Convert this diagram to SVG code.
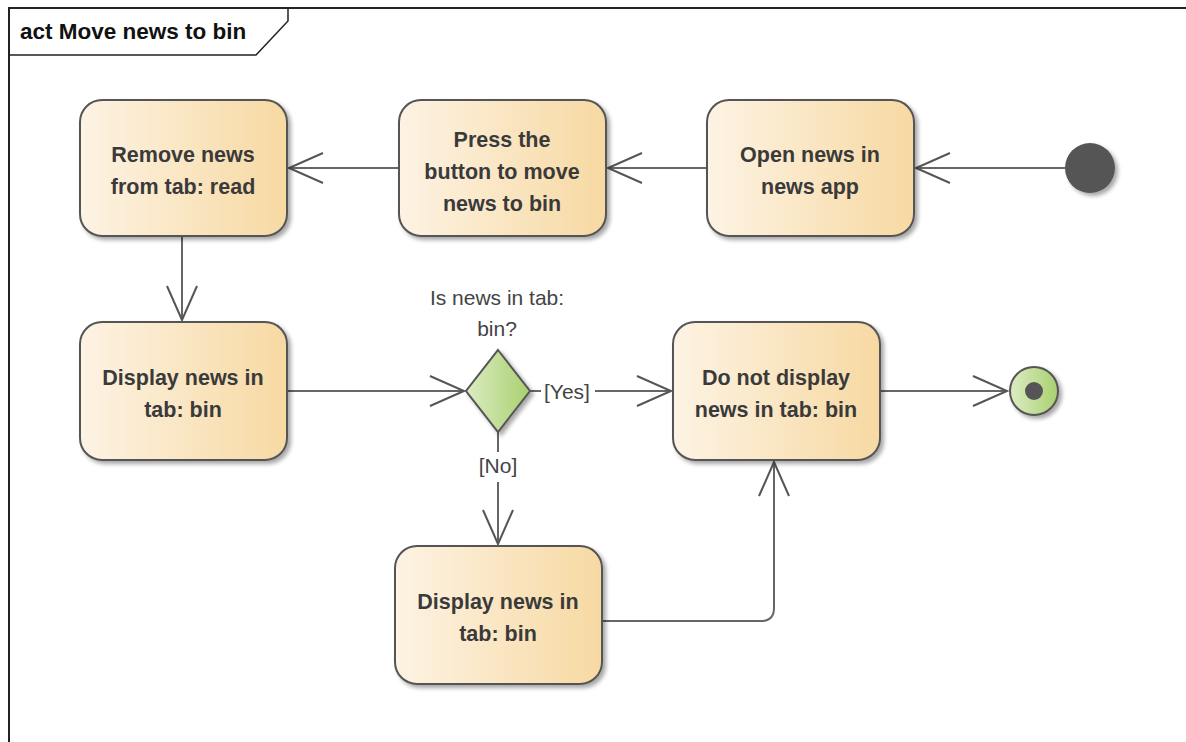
<svg xmlns="http://www.w3.org/2000/svg" width="1186" height="742" viewBox="0 0 1186 742">
<defs>
<linearGradient id="act" x1="0" y1="0" x2="1" y2="0">
<stop offset="0" stop-color="#fdf3e4"/>
<stop offset="1" stop-color="#f7d9a2"/>
</linearGradient>
<linearGradient id="grn" x1="0" y1="0" x2="1" y2="0">
<stop offset="0" stop-color="#dcecc4"/>
<stop offset="1" stop-color="#a9d06e"/>
</linearGradient>
<filter id="sh" x="-20%" y="-20%" width="140%" height="140%">
<feGaussianBlur in="SourceAlpha" stdDeviation="2"/>
<feOffset dx="3" dy="3"/>
<feComponentTransfer><feFuncA type="linear" slope="0.35"/></feComponentTransfer>
<feMerge><feMergeNode/><feMergeNode in="SourceGraphic"/></feMerge>
</filter>
<marker id="arr" viewBox="-36 -17 38 34" refX="0" refY="0" markerWidth="38" markerHeight="34" markerUnits="userSpaceOnUse" orient="auto" overflow="visible">
<path d="M-34,-15 L0,0 L-34,15" fill="none" stroke="#555" stroke-width="2"/>
</marker>
</defs>
<style>
.node{fill:url(#act);stroke:#555;stroke-width:2;filter:url(#sh)}
.t{font-family:"Liberation Sans",Arial,sans-serif;font-weight:bold;font-size:21.5px;fill:#3a3a3a;text-anchor:middle}
.lbl{font-family:"Liberation Sans",Arial,sans-serif;font-size:21px;fill:#444;text-anchor:middle}
.c{fill:none;stroke:#666;stroke-width:2;marker-end:url(#arr)}
.cl{fill:none;stroke:#666;stroke-width:2}
</style>
<rect width="1186" height="742" fill="#fff"/>
<g id="frame">
<path d="M9,742 L9,8 L1186,8" fill="none" stroke="#222" stroke-width="2"/>
<path d="M9,55 L256,55 L288,21 L288,8" fill="none" stroke="#222" stroke-width="1.5"/>
<text x="20" y="39" font-family="'Liberation Sans',Arial,sans-serif" font-weight="bold" font-size="22.5" fill="#111">act Move news to bin</text>
</g>
<g id="connectors">
<path class="c" d="M1065,168 L916,168"/>
<path class="c" d="M707,168 L608,168"/>
<path class="c" d="M399,168 L289,168"/>
<path class="c" d="M182,236 L182,320"/>
<path class="c" d="M287,391 L464,391"/>
<path class="cl" d="M530,391 L541,391"/>
<path class="c" d="M595,391 L671,391"/>
<path class="cl" d="M498,432 L498,452"/>
<path class="c" d="M498,482 L498,544"/>
<path class="c" d="M602,621 L761,621 Q774,621 774,608 L774,462"/>
<path class="c" d="M880,391 L1007,391"/>
<text class="lbl" x="567" y="399">[Yes]</text>
<text class="lbl" x="498" y="473">[No]</text>
</g>
<g id="initial"><circle cx="1090" cy="168" r="25" fill="#555" filter="url(#sh)"/></g>
<g id="open"><rect class="node" x="707" y="100" width="207" height="136" rx="22"/>
<text class="t" x="810" y="162">Open news in</text><text class="t" x="810" y="194">news app</text></g>
<g id="press"><rect class="node" x="399" y="100" width="207" height="136" rx="22"/>
<text class="t" x="502" y="147">Press the</text><text class="t" x="502" y="179">button to move</text><text class="t" x="502" y="211">news to bin</text></g>
<g id="remove"><rect class="node" x="80" y="100" width="207" height="136" rx="22"/>
<text class="t" x="183" y="162">Remove news</text><text class="t" x="183" y="194">from tab: read</text></g>
<g id="display1"><rect class="node" x="80" y="322" width="207" height="138" rx="22"/>
<text class="t" x="183" y="385">Display news in</text><text class="t" x="183" y="417">tab: bin</text></g>
<g id="decision"><path d="M498,350 L530,391 L498,432 L466,391 Z" fill="url(#grn)" stroke="#555" stroke-width="2" filter="url(#sh)"/>
<text class="lbl" x="497" y="305">Is news in tab:</text><text class="lbl" x="497" y="336">bin?</text></g>
<g id="donot"><rect class="node" x="673" y="322" width="207" height="138" rx="22"/>
<text class="t" x="776" y="385">Do not display</text><text class="t" x="776" y="417">news in tab: bin</text></g>
<g id="display2"><rect class="node" x="395" y="546" width="207" height="138" rx="22"/>
<text class="t" x="498" y="609">Display news in</text><text class="t" x="498" y="641">tab: bin</text></g>
<g id="final"><circle cx="1034" cy="391" r="24" fill="url(#grn)" stroke="#555" stroke-width="2" filter="url(#sh)"/>
<circle cx="1034" cy="391" r="9" fill="#555"/></g>
</svg>
